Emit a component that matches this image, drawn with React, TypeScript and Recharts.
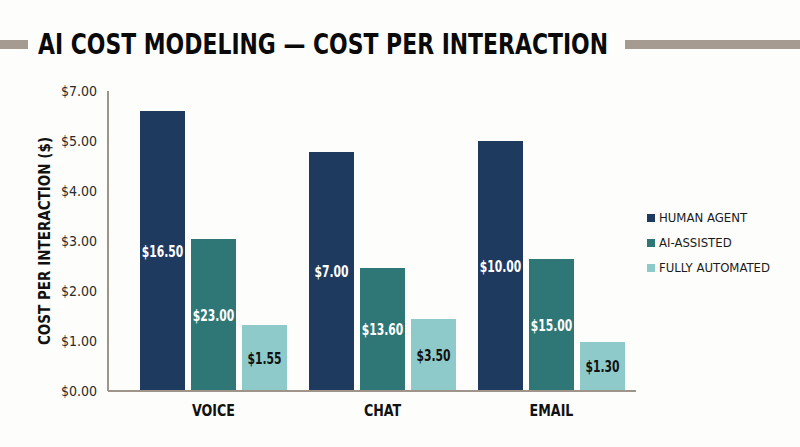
import { BarChart, Bar, XAxis, YAxis, LabelList } from "recharts";

const channels = ["VOICE", "CHAT", "EMAIL"];

const humanAgent = [5.6, 4.78, 5.0];
const aiAssisted = [3.04, 2.46, 2.64];
const fullyAutomated = [1.32, 1.44, 0.98];

const humanAgentLabels = ["$16.50", "$7.00", "$10.00"];
const aiAssistedLabels = ["$23.00", "$13.60", "$15.00"];
const fullyAutomatedLabels = ["$1.55", "$3.50", "$1.30"];

const yTicks = [0, 1, 2, 3, 4, 5, 6];
const yTickLabels = ["$0.00", "$1.00", "$2.00", "$3.00", "$4.00", "$5.00", "$7.00"];

const series = [
  { key: "human", name: "HUMAN AGENT", color: "#1f3a5f", labelKey: "humanLabel", labelColor: "#ffffff" },
  { key: "assisted", name: "AI-ASSISTED", color: "#2f7776", labelKey: "assistedLabel", labelColor: "#ffffff" },
  { key: "automated", name: "FULLY AUTOMATED", color: "#8fcaca", labelKey: "automatedLabel", labelColor: "#111111" },
];

const data = channels.map((channel, i) => ({
  channel,
  human: humanAgent[i],
  assisted: aiAssisted[i],
  automated: fullyAutomated[i],
  humanLabel: humanAgentLabels[i],
  assistedLabel: aiAssistedLabels[i],
  automatedLabel: fullyAutomatedLabels[i],
}));

const FONT = '"DejaVu Sans Condensed", "Liberation Sans Narrow", sans-serif';

// narrow bold text centred in each bar
function makeBarLabel(fill: string) {
  return (props: any) => {
    const { x, y, width, height, value } = props;
    const cx = Number(x) + Number(width) / 2;
    const cy = Number(y) + Number(height) / 2;
    return (
      <text
        transform={`translate(${cx},${cy}) scale(0.8,1)`}
        textAnchor="middle"
        dominantBaseline="central"
        fontFamily={FONT}
        fontSize={15}
        fontWeight={700}
        fill={fill}
      >
        {value}
      </text>
    );
  };
}

function CategoryTick(props: any) {
  const { x, y, payload } = props;
  return (
    <text
      transform={`translate(${x},${y + 23}) scale(0.88,1)`}
      textAnchor="middle"
      fontFamily={FONT}
      fontSize={16}
      fontWeight={700}
      fill="#111111"
    >
      {payload.value}
    </text>
  );
}

export default function App() {
  return (
    <div style={{ position: "absolute", left: 0, top: 0, width: 800, height: 447, background: "#fdfdfb", overflow: "hidden" }}>
      <div style={{ position: "absolute", left: 0, top: 40, width: 28, height: 9, background: "#a59b90" }} />
      <div style={{ position: "absolute", left: 625, top: 40, width: 175, height: 9, background: "#a59b90" }} />
      <div
        style={{
          position: "absolute",
          left: 38,
          top: 27,
          fontFamily: FONT,
          fontWeight: 700,
          fontSize: 29,
          color: "#0a0a0a",
          whiteSpace: "nowrap",
          transformOrigin: "left top",
          transform: "scaleX(0.84)",
        }}
      >
        AI COST MODELING — COST PER INTERACTION
      </div>
      <div style={{ position: "absolute", left: 0, top: 0 }}>
        <BarChart
          width={800}
          height={447}
          data={data}
          margin={{ top: 91, right: 164, bottom: 26, left: 0 }}
          barGap={6}
          barCategoryGap={11}
        >
          <XAxis
            dataKey="channel"
            height={30}
            padding={{ left: 21, right: 0 }}
            tickLine={false}
            tickSize={0}
            axisLine={{ stroke: "#9e948a", strokeWidth: 2 }}
            tick={<CategoryTick />}
          />
          <YAxis
            width={108}
            domain={[0, 6]}
            ticks={yTicks}
            tickFormatter={(v: number) => yTickLabels[yTicks.indexOf(v)]}
            tickLine={false}
            tickSize={0}
            tickMargin={11}
            axisLine={{ stroke: "#9e948a", strokeWidth: 2 }}
            tick={{ fontFamily: FONT, fontSize: 14, fill: "#2a2a2a" }}
            label={{
              value: "COST PER INTERACTION ($)",
              angle: -90,
              position: "insideLeft",
              offset: 45,
              style: { fontFamily: FONT, fontSize: 15, fontWeight: 700, fill: "#111111", textAnchor: "middle" },
            }}
          />
          {series.map((s) => (
            <Bar key={s.key} dataKey={s.key} name={s.name} fill={s.color} isAnimationActive={false}>
              <LabelList dataKey={s.labelKey} content={makeBarLabel(s.labelColor)} />
            </Bar>
          ))}
        </BarChart>
      </div>
      <div style={{ position: "absolute", left: 647, top: 205, fontFamily: FONT, fontSize: 13, color: "#1a1a1a" }}>
        {series.map((s) => (
          <div key={s.key} style={{ display: "flex", alignItems: "center", height: 25 }}>
            <span style={{ width: 8, height: 8, background: s.color, marginRight: 4, display: "inline-block" }} />
            {s.name}
          </div>
        ))}
      </div>
    </div>
  );
}
